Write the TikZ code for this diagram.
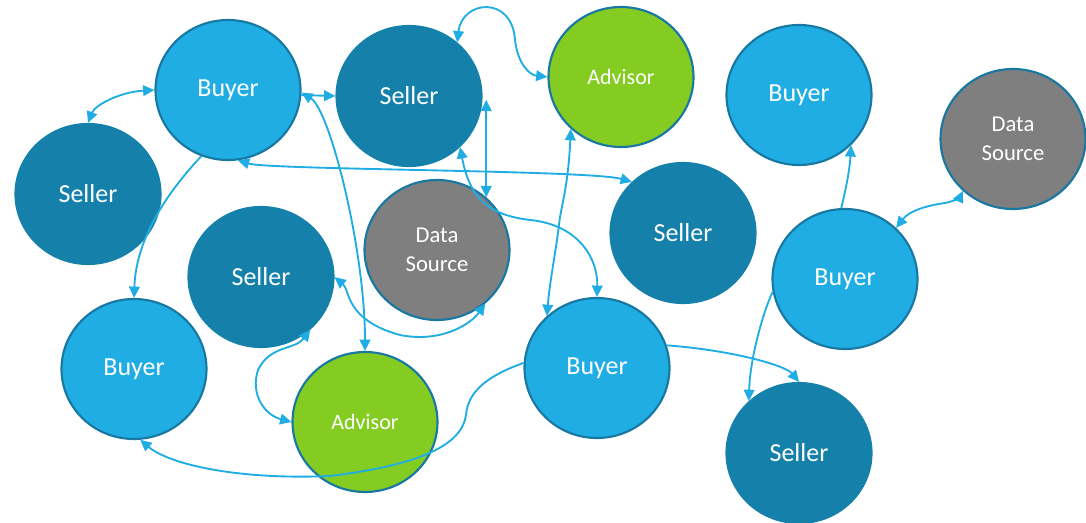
\documentclass[tikz,border=0pt]{standalone}
\usepackage{fontspec}
\setmainfont{Carlito}
\usetikzlibrary{arrows.meta,shapes.geometric}
\definecolor{buyerc}{HTML}{1FADE3}
\definecolor{sellerc}{HTML}{1581AB}
\definecolor{advisorc}{HTML}{84CC22}
\definecolor{datac}{HTML}{7F7F7F}
\definecolor{edgec}{HTML}{1878A2}
\definecolor{linkc}{HTML}{1FADE3}
\tikzset{
  actor/.style={ellipse, minimum width=108.75pt, minimum height=105pt, inner sep=0pt,
    draw=edgec, line width=1.6pt, text=white, align=center},
  buyer/.style={actor, fill=buyerc, font=\fontsize{19.5}{23}\selectfont},
  seller/.style={actor, fill=sellerc, draw=sellerc, font=\fontsize{19.5}{23}\selectfont},
  advisor/.style={actor, fill=advisorc, font=\fontsize{16.5}{20}\selectfont},
  datasrc/.style={actor, fill=datac, font=\fontsize{17}{22}\selectfont},
  link/.style={draw=linkc, line width=1.4pt},
  >={Triangle[length=8.5pt,width=8pt]}
}
\begin{document}
\begin{tikzpicture}[x=0.75pt,y=-0.75pt]
\useasboundingbox (0,0) rectangle (1086,523);
\node[buyer]   (b1)  at (228,90)  {Buyer};
\node[seller]  (s2)  at (409,96)  {Seller};
\node[advisor] (a3)  at (621,77)  {Advisor};
\node[buyer]   (b4)  at (799,95)  {Buyer};
\node[datasrc] (d5)  at (1013,139) {Data\\Source};
\node[seller]  (s6)  at (88,194)  {Seller};
\node[seller]  (s7)  at (683,233) {Seller};
\node[buyer]   (b8)  at (845,279) {Buyer};
\node[datasrc] (d9)  at (437,250) {Data\\Source};
\node[seller]  (s10) at (261,277) {Seller};
\node[buyer]   (b11) at (134,369) {Buyer};
\node[advisor] (a12) at (365,422) {Advisor};
\node[buyer]   (b13) at (597,368) {Buyer};
\node[seller]  (s14) at (799,453) {Seller};

% connectors
\draw[link,<->] (s6.90) .. controls (95,105) and (120,92) .. (b1.180);
\draw[link,->] (b1.-4) -- (s2.180);
\draw[link,<->] (a12.90) .. controls (365,250) and (330,110) .. (b1.-2);
\draw[link,<->] (b1.-82) .. controls (270,170) and (590,170) .. (s7.135);
\draw[link,->] (b1.-112) .. controls (165,195) and (136,240) .. (b11.90);
\draw[link,<->] (s2.48) .. controls (462,0) and (512,-5) .. (515,40) .. controls (518,65) and (530,75) .. (a3.180);
\draw[link,<->] (d9.47 |- s2.-3) -- (d9.47);
\draw[link,<->] (s2.-45) .. controls (470,200) and (490,215) .. (530,220) .. controls (580,225) and (598,260) .. (b13.90);
\draw[link,<->] (a3.-134) .. controls (568,190) and (560,210) .. (559,225) .. controls (556,250) and (550,280) .. (b13.134);
\draw[link,<->] (s10.0) .. controls (350,290) and (345,320) .. (400,335) .. controls (440,343) and (470,325) .. (d9.-48);
\draw[link,<->] (s10.-47) .. controls (295,350) and (270,345) .. (258,370) .. controls (250,395) and (265,415) .. (a12.180);
\draw[link,->] (b13.176) .. controls (490,375) and (468,390) .. (466,415) .. controls (462,445) and (420,465) .. (330,476) .. controls (240,480) and (170,465) .. (b11.-85);
\draw[link,->] (b13.18) .. controls (730,350) and (785,365) .. (s14.90);
\draw[link,->] (b8.-170) .. controls (762,315) and (750,360) .. (s14.134);
\draw[link,->] (b8.93) .. controls (848,180) and (850,165) .. (b4.-44);
\draw[link,<->] (b8.45) .. controls (910,210) and (930,205) .. (945,203) .. controls (955,201) and (960,197) .. (d5.-134);
\end{tikzpicture}
\end{document}
